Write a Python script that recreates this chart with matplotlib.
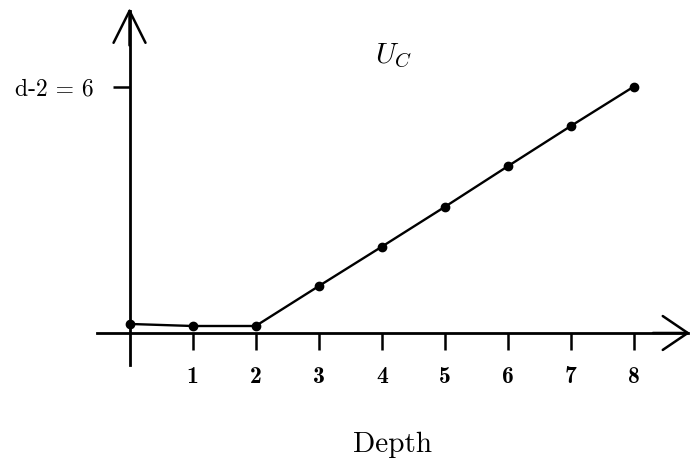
import matplotlib
matplotlib.use("Agg")
import matplotlib.pyplot as plt

# Data
depth = [0, 1, 2, 3, 4, 5, 6, 7, 8]
u_c = [0.22, 0.17, 0.17, 1.14, 2.10, 3.07, 4.06, 5.04, 6.0]
xtick_vals = [1, 2, 3, 4, 5, 6, 7, 8]
xtick_labels = ["1", "2", "3", "4", "5", "6", "7", "8"]
ytick_vals = [6]
ytick_labels = ["d-2 = 6"]
series_label = r"$U_C$"
x_label = "Depth"

plt.rcParams["mathtext.fontset"] = "cm"

fig = plt.figure(figsize=(6.92, 4.63), dpi=100)
ax = fig.add_axes([0, 0, 1, 1])
ax.set_xlim(-2.054, 8.920)
ax.set_ylim(-3.165, 8.106)

# Axes lines through origin
for s in ["top", "right"]:
    ax.spines[s].set_visible(False)
ax.spines["bottom"].set_position(("data", 0))
ax.spines["left"].set_position(("data", 0))
ax.spines["bottom"].set_bounds(-0.515, 8.85)
ax.spines["left"].set_bounds(-0.78, 7.85)
ax.spines["bottom"].set_linewidth(2.0)
ax.spines["left"].set_linewidth(2.0)

# Open arrowheads
ax.annotate("", xy=(8.888, 0), xytext=(8.3, 0),
            arrowprops=dict(arrowstyle="->,head_length=1.8,head_width=1.22",
                            lw=1.8, color="black", shrinkA=0, shrinkB=0))
ax.annotate("", xy=(0, 7.91), xytext=(0, 7.0),
            arrowprops=dict(arrowstyle="->,head_length=2.3,head_width=1.15",
                            lw=1.8, color="black", shrinkA=0, shrinkB=0))

# Ticks
ax.set_xticks(xtick_vals)
ax.set_xticklabels(xtick_labels, fontfamily="cmb10", fontsize=17)
ax.set_yticks(ytick_vals)
ax.set_yticklabels(ytick_labels, fontfamily="cmr10", fontsize=17)
ax.tick_params(axis="x", direction="out", length=12, width=1.8, pad=12)
ax.tick_params(axis="y", direction="out", length=12, width=1.8, pad=14)

# Data line
ax.plot(depth, u_c, color="black", lw=1.7, marker="o", markersize=6,
        solid_capstyle="round", zorder=3, clip_on=False)

# Series label
ax.text(4.19, 6.57, series_label, fontsize=21, ha="center", va="baseline")

# X label
ax.set_xlabel(x_label, fontfamily="cmr10", fontsize=21)
ax.xaxis.set_label_coords(0.5665, 0.0238)
ax.xaxis.label.set_va("baseline")

fig.savefig("out.png", dpi=100)
